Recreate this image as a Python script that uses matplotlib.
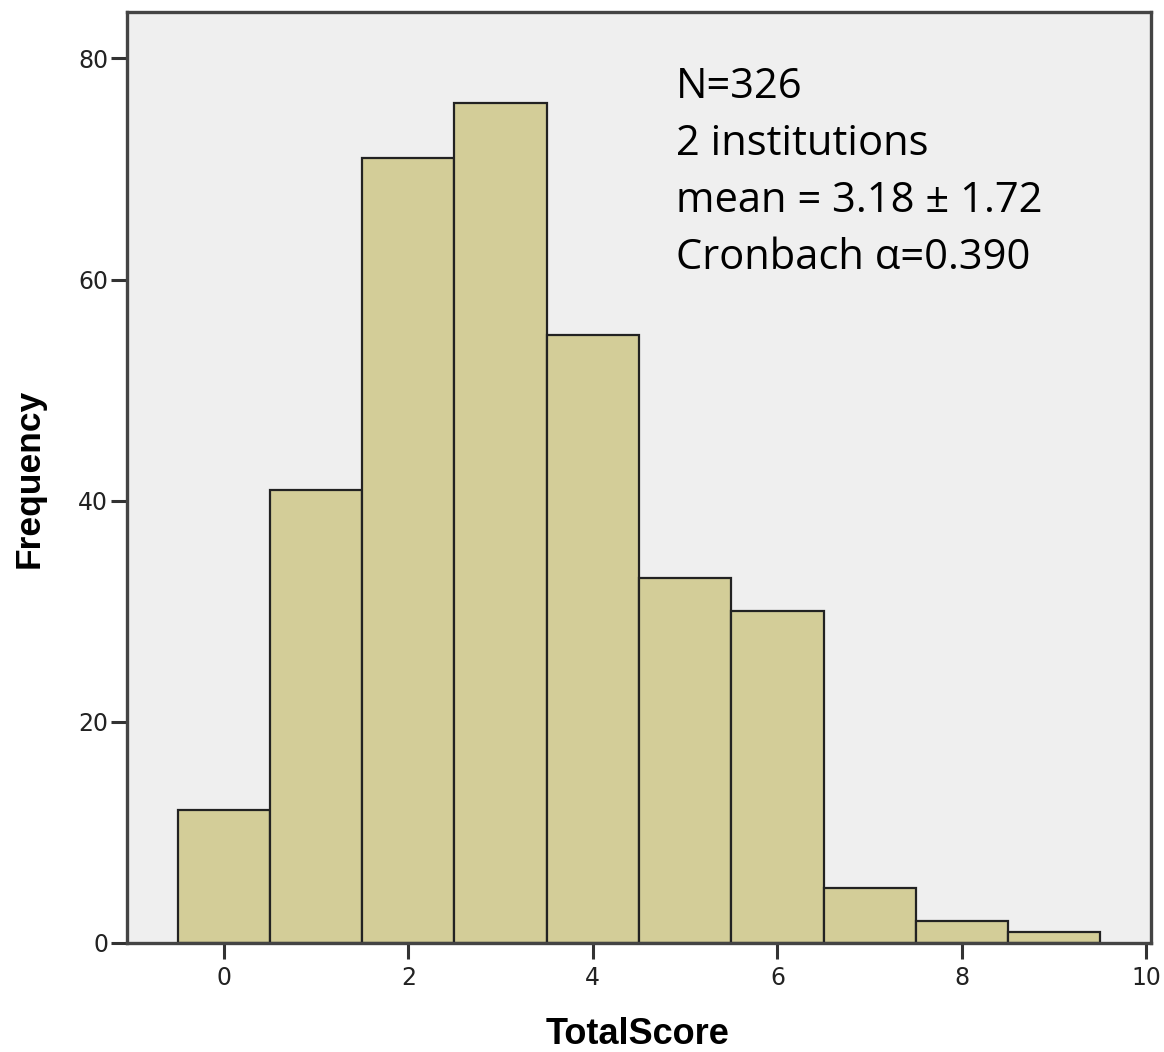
import numpy as np
import matplotlib.pyplot as plt

scores = [0, 1, 2, 3, 4, 5, 6, 7, 8, 9]
counts = [12, 41, 71, 76, 55, 33, 30, 5, 2, 1]
x_ticks = [0, 2, 4, 6, 8, 10]
y_ticks = [0, 20, 40, 60, 80]
note_lines = ["N=326", "2 institutions", "mean = 3.18 \u00b1 1.72", "Cronbach \u03b1=0.390"]

W, H = 1164, 1052
fig = plt.figure(figsize=(W / 100, H / 100), dpi=100)
ax = fig.add_axes([127 / W, 1 - 943 / H, 1024 / W, 931 / H])
ax.set_facecolor("#efefef")

ax.bar(scores, counts, width=1.0, color="#d3cd98", edgecolor="#222222", linewidth=1.6, zorder=2)

ax.set_xlim(-1.05, 10.05)
ax.set_ylim(0, 84.2)
ax.set_xticks(x_ticks)
ax.set_yticks(y_ticks)
ax.tick_params(axis="both", direction="out", length=11.5, width=2.2, color="#333333",
               labelsize=17, labelcolor="#222222")
ax.tick_params(axis="y", pad=2)
ax.tick_params(axis="x", pad=5)

for s in ax.spines.values():
    s.set_linewidth(2.4)
    s.set_color("#444444")

# axis titles placed directly on the figure
fig.text(638 / W, 1 - 1035 / H, "TotalScore", fontsize=26, fontweight="bold",
         family="Liberation Sans", ha="center", va="center")
fig.text(29 / W, 1 - 478 / H, "Frequency", fontsize=25.5, fontweight="bold",
         family="Liberation Sans", ha="center", va="center", rotation=90)

ax.text(0.536, 0.942, "\n".join(note_lines), transform=ax.transAxes, fontsize=30,
        family="Open Sans", va="top", ha="left", linespacing=1.47)

fig.savefig("out.png", dpi=100)
